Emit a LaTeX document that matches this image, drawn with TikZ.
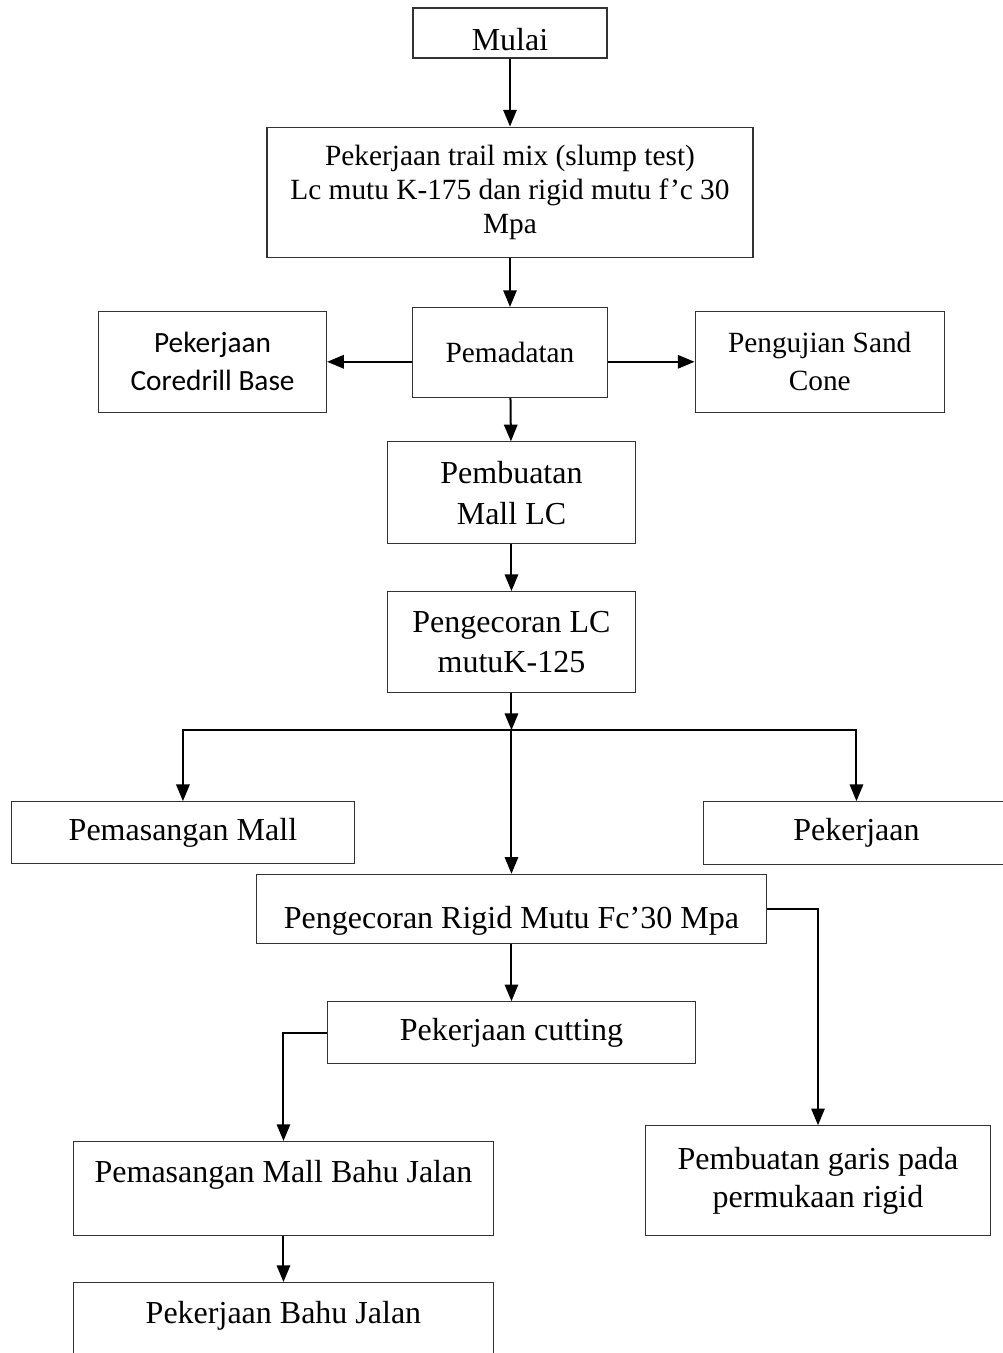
\documentclass[tikz,border=0pt]{standalone}
\usepackage{fontspec}
\setmainfont{Liberation Serif}
\newfontfamily\carlito{Carlito}
\usetikzlibrary{arrows.meta,positioning}

\begin{document}
\begin{tikzpicture}[
    auto,
    >={Triangle[length=12.5pt,width=10pt]},
    font=\fontsize{24}{30}\selectfont,
    proses/.style={
		rectangle,
		draw=black!80,
		line width=0.8pt,
		align=center,
		inner sep=2pt,
		fill=white
	},
	alur/.style={
		->,
		line width=1.5pt
	}
  ]
    % page frame, the right box and the last box are cut by it
  \useasboundingbox (0,0) rectangle (752.25pt,-1014.75pt);
  \clip (0,0) rectangle (752.25pt,-1014.75pt);

    % We start by placing the blocks
  \node [proses, minimum width=145.5pt, minimum height=37.5pt, text height=26.6pt] (mulai) at (382.5pt,-24.75pt) {Mulai};

  \node [proses, below=51pt of mulai, minimum width=364.5pt, minimum height=97.5pt,
         font=\fontsize{22}{25.5}\selectfont] (trail)
 {Pekerjaan trail mix (slump test)\\
  Lc mutu K-175 dan rigid mutu f’c 30\\
  Mpa};

  \node [proses, below=37pt of trail, minimum width=146pt, minimum height=67.5pt,
         font=\fontsize{22}{26}\selectfont] (padat) {Pemadatan};

  \node [proses, left=63.75pt of padat, yshift=-7pt, minimum width=171pt, minimum height=75.75pt,
         font=\carlito\fontsize{22}{28.5}\selectfont] (coredrill)
 {Pekerjaan\\ Coredrill Base};

  \node [proses, right=65pt of padat, yshift=-7pt, minimum width=187pt, minimum height=75.75pt,
         font=\fontsize{22}{28.5}\selectfont] (sandcone)
 {Pengujian Sand\\ Cone};

  \node [proses, below=32.5pt of padat, xshift=1.1pt, minimum width=186pt, minimum height=76.5pt,
         font=\fontsize{24}{31}\selectfont] (mallLC)
 {Pembuatan\\ Mall LC};

  \node [proses, below=35pt of mallLC, minimum width=186pt, minimum height=75.75pt] (lc)
 {Pengecoran LC\\ mutuK-125};

  \coordinate [below=27.75pt of lc] (cabang);

  \node [proses, below=81pt of lc, xshift=-246.4pt, minimum width=257.25pt, minimum height=46.5pt] (pasangmall)
 {Pemasangan Mall};

  \node [proses, below=81pt of lc, xshift=258.75pt, minimum width=230pt, minimum height=47pt] (pekerjaan)
 {Pekerjaan};

  \node [proses, below=135.5pt of lc, minimum width=382.5pt, minimum height=51.75pt,
         text height=35pt, text depth=5pt] (rigid)
 {Pengecoran Rigid Mutu Fc’30 Mpa};

  \node [proses, below=43pt of rigid, minimum width=276pt, minimum height=46.5pt] (cutting)
 {Pekerjaan cutting};

  \node [proses, below=136pt of rigid, xshift=229.9pt, minimum width=258.75pt, minimum height=82.5pt,
         font=\fontsize{24}{29}\selectfont] (garis)
 {Pembuatan garis pada\\ permukaan rigid};

  \node [proses, below=57.5pt of cutting, xshift=-171pt, minimum width=315pt, minimum height=70.5pt,
         text depth=25.6pt] (mallbahu)
 {Pemasangan Mall Bahu Jalan};

  \node [proses, below=34.5pt of mallbahu, minimum width=315pt, minimum height=60pt,
         text depth=15pt] (bahujalan)
 {Pekerjaan Bahu Jalan};

 \draw [alur] (mulai) -- (trail);
 \draw [alur] (trail) -- (padat);
 \draw [alur] (padat.west |- coredrill) -- (coredrill);
 \draw [alur] (padat.east |- sandcone) -- (sandcone);
 \draw [alur] (padat) -- (mallLC);
 \draw [alur] (mallLC) -- (lc);
 \draw [alur] (lc) -- (cabang);
 \draw [alur] (cabang) -| (pasangmall);
 \draw [alur] (cabang) -| (pekerjaan);
 \draw [alur] (cabang) -- (rigid);
 \draw [alur] (rigid.east) -| (garis);
 \draw [alur] (rigid) -- (cutting);
 \draw [alur] (cutting.west) -| (mallbahu);
 \draw [alur] (mallbahu) -- (bahujalan);

\end{tikzpicture}
\end{document}
